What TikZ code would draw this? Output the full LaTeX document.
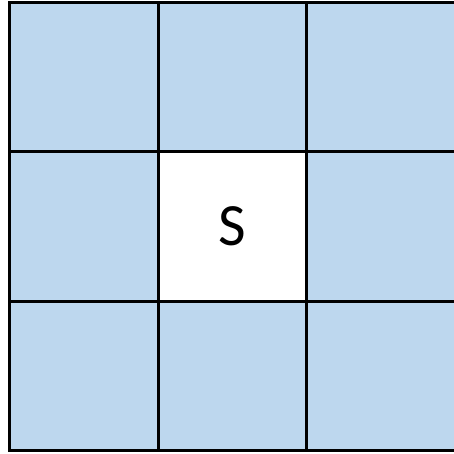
\documentclass[tikz,border=0pt]{standalone}
\usepackage{fontspec}
\setmainfont{Carlito}
\usetikzlibrary{positioning}
\definecolor{cblue}{HTML}{BDD7EE}
\tikzset{
  every picture/.style={line width=2.6pt},
  cell/.style={draw=black, fill=#1, minimum width=148.5pt, minimum height=149.5pt, inner sep=0pt, outer sep=0pt, font=\fontsize{60}{64}\selectfont},
  cell/.default=cblue,
}

\begin{document}
\begin{tikzpicture}[x=1pt, y=-1pt]
  \useasboundingbox (0,0) rectangle (454,453);
  \foreach \r in {0,1,2} {
    \foreach \c in {0,1,2} {
      \node[cell] (c\r\c) at (84+\c*148.5, 77+\r*149.5) {};
    }
  }
  \node[cell=white] (start) at (c11) {S};
\end{tikzpicture}
\end{document}
